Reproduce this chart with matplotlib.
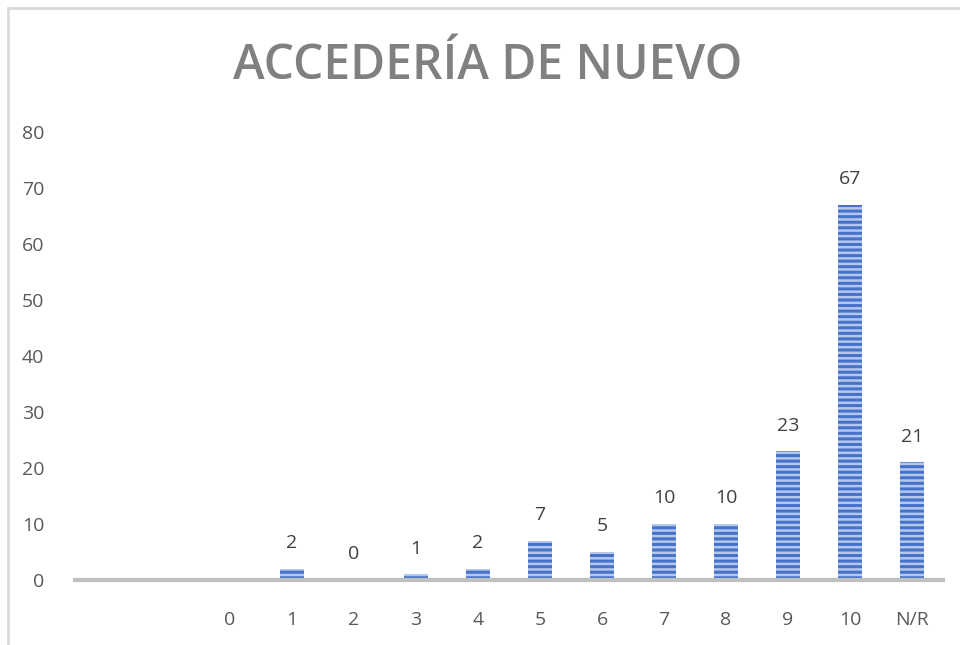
#!/usr/bin/env python3
"""Bar chart: Accedería de nuevo."""
import matplotlib.pyplot as plt
from matplotlib.patches import Rectangle

CATEGORIES = ["", "", "0", "1", "2", "3", "4", "5", "6", "7", "8", "9", "10", "N/R"]
VALUES = [None, None, None, 2, 0, 1, 2, 7, 5, 10, 10, 23, 67, 21]
Y_TICKS = [0, 10, 20, 30, 40, 50, 60, 70, 80]

plt.rcParams["hatch.linewidth"] = 1.8
plt.rcParams["font.family"] = ["Open Sans", "DejaVu Sans"]

fig = plt.figure(figsize=(9.6, 6.45), dpi=100)
# chart frame
fig.patches.append(Rectangle((8 / 960, -0.1), 1.2, 1.1 - 8 / 645,
                             transform=fig.transFigure, fill=False,
                             edgecolor="#d9d9d9", linewidth=2))

ax = fig.add_axes([75 / 960, (645 - 580) / 645, 868 / 960, 448 / 645])
x = list(range(len(CATEGORIES)))
for xi, v in zip(x, VALUES):
    if v is None:
        continue
    ax.bar(xi, v, width=0.39, color="#4673c8", edgecolor="#b3c7ef",
           linewidth=0, hatch="---")
    ax.annotate(str(v), (xi, v), xytext=(0, 12), textcoords="offset points",
                ha="center", va="bottom", fontsize=14, color="#404040")

ax.set_xlim(-0.5, len(CATEGORIES) - 0.5)
ax.set_ylim(0, 80)
ax.set_yticks(Y_TICKS)
ax.set_xticks(x)
ax.set_xticklabels(CATEGORIES)
ax.tick_params(axis="both", length=0, labelsize=14, labelcolor="#595959")
ax.tick_params(axis="x", pad=22)
ax.tick_params(axis="y", pad=22)
for s in ("top", "right", "left"):
    ax.spines[s].set_visible(False)
ax.spines["bottom"].set_color("#bfbfbf")
ax.spines["bottom"].set_linewidth(3)

fig.text(0.508, 0.897, "ACCEDERÍA DE NUEVO", ha="center", va="center",
         fontsize=34.5, fontweight="semibold", color="#808080")

fig.savefig("out.png", dpi=100)
